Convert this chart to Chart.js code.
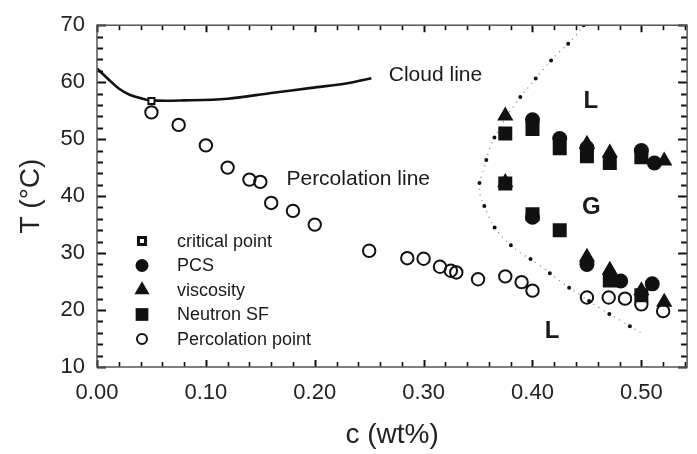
<!DOCTYPE html>
<html><head><meta charset="utf-8">
<script src="https://cdn.jsdelivr.net/npm/chart.js"></script>
<style>html,body{margin:0;padding:0;background:#fff;}canvas{display:block;}</style>
</head><body>
<canvas id="c" width="697" height="454"></canvas>
<script>
// ---- data (c in wt%, T in °C) ----
const cloudC = [0, 0.010, 0.020, 0.030, 0.040, 0.050, 0.080, 0.120, 0.160, 0.197, 0.230, 0.252];
const cloudT = [62.4, 60.6, 58.9, 57.8, 57.2, 56.8, 56.8, 57.1, 58.1, 59.0, 59.8, 60.7];

const coexC = [0.447, 0.437, 0.418, 0.401, 0.385, 0.372, 0.362, 0.356, 0.351, 0.357, 0.367, 0.385, 0.405, 0.425, 0.444, 0.463, 0.484, 0.503];
const coexT = [70.0, 67.6, 64.0, 60.2, 56.4, 52.6, 49.0, 45.2, 41.4, 37.7, 34.0, 30.6, 28.1, 25.1, 22.6, 20.2, 17.8, 15.6];

const critC = [0.050];
const critT = [56.7];

const pcsC = [0.400, 0.425, 0.450, 0.500, 0.512, 0.400, 0.450, 0.481, 0.510];
const pcsT = [53.4, 50.1, 48.5, 48.0, 45.8, 36.3, 28.0, 25.1, 24.6];

const viscC = [0.375, 0.450, 0.471, 0.521, 0.375, 0.450, 0.471, 0.500, 0.521];
const viscT = [54.1, 49.1, 47.6, 46.2, 42.4, 29.3, 27.0, 23.4, 21.4];

const neutronC = [0.375, 0.400, 0.425, 0.450, 0.471, 0.500, 0.375, 0.400, 0.425, 0.471, 0.500];
const neutronT = [51.0, 51.8, 48.4, 47.0, 45.8, 46.8, 42.2, 36.8, 34.0, 25.2, 22.6];

const percC = [0.050, 0.075, 0.100, 0.120, 0.140, 0.150, 0.160, 0.180, 0.200, 0.250, 0.285, 0.300, 0.315, 0.325, 0.330, 0.350, 0.375, 0.390, 0.400, 0.450, 0.470, 0.485, 0.500, 0.520];
const percT = [54.7, 52.5, 48.9, 45.0, 42.9, 42.5, 38.8, 37.4, 35.0, 30.4, 29.1, 29.0, 27.6, 26.9, 26.6, 25.4, 25.9, 24.9, 23.4, 22.2, 22.2, 22.0, 21.0, 19.8];

const xTickValues = [0.00, 0.10, 0.20, 0.30, 0.40, 0.50];
const yTickValues = [10, 20, 30, 40, 50, 60, 70];
const legendLabels = ['critical point', 'PCS', 'viscosity', 'Neutron SF', 'Percolation point'];

// ---- helpers ----
const FONT = '"Liberation Sans", Arial, Helvetica, sans-serif';
const INK = '#111';
const xy = (cs, ts) => cs.map((c, i) => ({x: c, y: ts[i]}));

const annotations = [
  {text: 'Cloud line', c: 0.268, t: 61.3, size: 21, bold: false, align: 'left'},
  {text: 'Percolation line', c: 0.174, t: 42.9, size: 21, bold: false, align: 'left'},
  {text: 'L', c: 0.4535, t: 56.7, size: 24, bold: true, align: 'center'},
  {text: 'G', c: 0.454, t: 38.1, size: 24, bold: true, align: 'center'},
  {text: 'L', c: 0.418, t: 16.2, size: 24, bold: true, align: 'center'}
];

const legendStyles = [
  {pointStyle: 'rect', radius: 5, fill: '#fff', borderWidth: 3},
  {pointStyle: 'circle', radius: 6.5, fill: INK, borderWidth: 0},
  {pointStyle: 'triangle', radius: 8.7, fill: INK, borderWidth: 0},
  {pointStyle: 'rect', radius: 9, fill: INK, borderWidth: 0},
  {pointStyle: 'circle', radius: 5, fill: 'rgba(0,0,0,0)', borderWidth: 2}
];

function drawMarker(ctx, st, x, y) {
  ctx.save();
  ctx.fillStyle = st.fill;
  ctx.strokeStyle = INK;
  ctx.lineWidth = st.borderWidth;
  if (Chart.helpers && Chart.helpers.drawPoint) {
    Chart.helpers.drawPoint(ctx, {pointStyle: st.pointStyle, radius: st.radius, rotation: 0, borderWidth: st.borderWidth}, x, y);
  }
  ctx.restore();
}

const framePlugin = {
  id: 'frameTicks',
  afterDatasetsDraw(chart) {
    const {ctx, chartArea: a, scales: {x, y}} = chart;
    ctx.save();
    ctx.strokeStyle = INK;
    // x ticks every 0.02 (bottom + top, inward)
    for (let i = 0; ; i++) {
      const v = i * 0.02;
      if (v > x.max + 1e-9) break;
      const px = Math.round(x.getPixelForValue(v)) + 0.5;
      const major = i % 5 === 0;
      const len = major ? 7 : 5;
      ctx.lineWidth = major ? 2 : 1.6;
      ctx.beginPath();
      ctx.moveTo(px, a.bottom); ctx.lineTo(px, a.bottom - len);
      ctx.moveTo(px, a.top); ctx.lineTo(px, a.top + len);
      ctx.stroke();
    }
    // y ticks every 2 (left + right, inward)
    for (let i = 0; ; i++) {
      const v = y.min + i * 2;
      if (v > y.max + 1e-9) break;
      const py = Math.round(y.getPixelForValue(v)) + 0.5;
      const major = i % 5 === 0;
      const len = major ? 9 : 6;
      ctx.lineWidth = major ? 2.2 : 1.8;
      ctx.beginPath();
      ctx.moveTo(a.left, py); ctx.lineTo(a.left + len, py);
      ctx.moveTo(a.right, py); ctx.lineTo(a.right - len, py);
      ctx.stroke();
    }
    // frame
    ctx.strokeStyle = '#555';
    ctx.lineWidth = 1.5;
    ctx.strokeRect(a.left, a.top, a.right - a.left, a.bottom - a.top);
    ctx.restore();

    // annotations
    ctx.save();
    ctx.fillStyle = '#1a1a1a';
    ctx.textBaseline = 'middle';
    annotations.forEach(n => {
      ctx.font = (n.bold ? 'bold ' : '') + n.size + 'px ' + FONT;
      ctx.textAlign = n.align;
      ctx.fillText(n.text, x.getPixelForValue(n.c), y.getPixelForValue(n.t));
    });
    ctx.restore();

    // legend
    ctx.save();
    ctx.fillStyle = '#1a1a1a';
    ctx.font = '18px ' + FONT;
    ctx.textBaseline = 'middle';
    ctx.textAlign = 'left';
    const lx = 142, tx = 177, ly0 = 241, dy = 24.5;
    legendLabels.forEach((lab, i) => {
      const ly = ly0 + i * dy;
      drawMarker(ctx, legendStyles[i], lx, ly);
      ctx.fillStyle = '#1a1a1a';
      ctx.fillText(lab, tx, ly + 1);
    });
    ctx.restore();
  }
};

new Chart(document.getElementById('c'), {
  type: 'scatter',
  data: {
    datasets: [
      {label: 'critical point', data: xy(critC, critT), pointStyle: 'rect', pointRadius: 4.3,
       backgroundColor: '#fff', borderColor: INK, borderWidth: 2, order: 1},
      {label: 'Percolation point', data: xy(percC, percT), pointStyle: 'circle', pointRadius: 6.2,
       backgroundColor: 'rgba(0,0,0,0)', borderColor: INK, borderWidth: 2, order: 2},
      {label: 'PCS', data: xy(pcsC, pcsT), pointStyle: 'circle', pointRadius: 7.5,
       backgroundColor: INK, borderColor: INK, borderWidth: 0, order: 3},
      {label: 'viscosity', data: xy(viscC, viscT), pointStyle: 'triangle', pointRadius: 9.4,
       backgroundColor: INK, borderColor: INK, borderWidth: 0, order: 4},
      {label: 'Neutron SF', data: xy(neutronC, neutronT), pointStyle: 'rect', pointRadius: 9.9,
       backgroundColor: INK, borderColor: INK, borderWidth: 0, order: 5},
      {label: 'Cloud line', data: xy(cloudC, cloudT), showLine: true, pointRadius: 0,
       borderColor: INK, borderWidth: 2.6, tension: 0.35, order: 8},
      {label: 'coexistence', data: xy(coexC, coexT), showLine: true, pointRadius: 0,
       borderColor: INK, borderWidth: 4, borderDash: [0, 24], borderCapStyle: 'round', tension: 0.4, order: 9},
      {label: 'coexistence fine', data: xy(coexC, coexT), showLine: true, pointRadius: 0,
       borderColor: '#888', borderWidth: 1.4, borderDash: [0, 6], borderCapStyle: 'round', tension: 0.4, order: 10}
    ]
  },
  options: {
    responsive: false,
    animation: false,
    events: [],
    layout: {padding: {top: 19, right: 3, left: 0, bottom: 0}},
    plugins: {legend: {display: false}, tooltip: {enabled: false}},
    scales: {
      x: {
        type: 'linear', position: 'bottom', min: 0, max: 0.542,
        grid: {display: false, drawTicks: false},
        border: {display: false},
        afterBuildTicks(s) { s.ticks = xTickValues.map(v => ({value: v})); },
        ticks: {
          padding: 13, color: '#222', maxRotation: 0, autoSkip: false,
          font: {family: FONT, size: 22},
          callback: v => Number(v).toFixed(2)
        },
        title: {display: true, text: 'c (wt%)', color: '#222', font: {family: FONT, size: 28}, padding: {top: 0, bottom: 2}},
        afterFit(s) { s.height = 87; }
      },
      y: {
        type: 'linear', position: 'left', min: 10, max: 70,
        grid: {display: false, drawTicks: false},
        border: {display: false},
        afterBuildTicks(s) { s.ticks = yTickValues.map(v => ({value: v})); },
        ticks: {padding: 12, color: '#222', font: {family: FONT, size: 22}},
        title: {display: true, text: 'T (°C)', color: '#222', font: {family: FONT, size: 28}, padding: {top: 14, bottom: 0}},
        afterFit(s) { s.width = 97; }
      }
    }
  },
  plugins: [framePlugin]
});
</script>
</body></html>
